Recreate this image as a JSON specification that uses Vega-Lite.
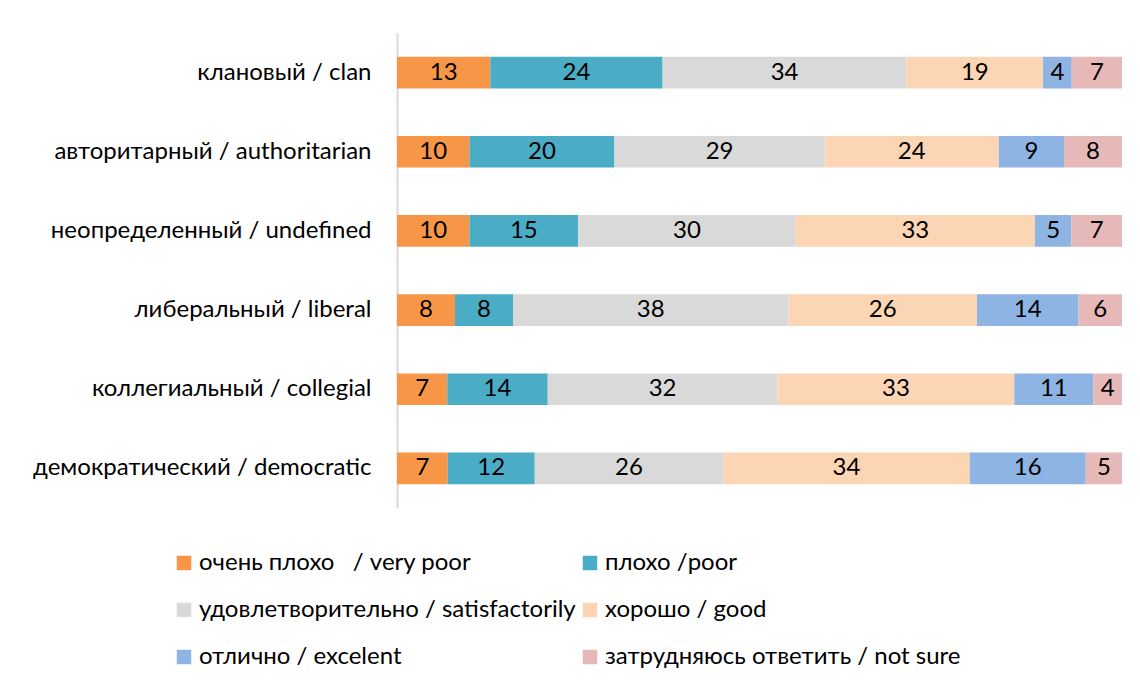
{
  "$schema": "https://vega.github.io/schema/vega-lite/v6.json",
  "autosize": {"type": "none"},
  "padding": {"left": 397, "top": 33, "right": 18, "bottom": 175},
  "width": 725,
  "height": 475,
  "background": "white",
  "config": {"view": {"stroke": null}, "font": "Lato"},
  "data": {"values": [
    {"style": "клановый / clan", "cat": "очень плохо\u00a0\u00a0 / very poor", "k": 1, "v": 13},
    {"style": "клановый / clan", "cat": "плохо /poor", "k": 2, "v": 24},
    {"style": "клановый / clan", "cat": "удовлетворительно / satisfactorily", "k": 3, "v": 34},
    {"style": "клановый / clan", "cat": "хорошо / good", "k": 4, "v": 19},
    {"style": "клановый / clan", "cat": "отлично / excelent", "k": 5, "v": 4},
    {"style": "клановый / clan", "cat": "затрудняюсь ответить / not sure", "k": 6, "v": 7},
    {"style": "авторитарный / authoritarian", "cat": "очень плохо\u00a0\u00a0 / very poor", "k": 1, "v": 10},
    {"style": "авторитарный / authoritarian", "cat": "плохо /poor", "k": 2, "v": 20},
    {"style": "авторитарный / authoritarian", "cat": "удовлетворительно / satisfactorily", "k": 3, "v": 29},
    {"style": "авторитарный / authoritarian", "cat": "хорошо / good", "k": 4, "v": 24},
    {"style": "авторитарный / authoritarian", "cat": "отлично / excelent", "k": 5, "v": 9},
    {"style": "авторитарный / authoritarian", "cat": "затрудняюсь ответить / not sure", "k": 6, "v": 8},
    {"style": "неопределенный / undefined", "cat": "очень плохо\u00a0\u00a0 / very poor", "k": 1, "v": 10},
    {"style": "неопределенный / undefined", "cat": "плохо /poor", "k": 2, "v": 15},
    {"style": "неопределенный / undefined", "cat": "удовлетворительно / satisfactorily", "k": 3, "v": 30},
    {"style": "неопределенный / undefined", "cat": "хорошо / good", "k": 4, "v": 33},
    {"style": "неопределенный / undefined", "cat": "отлично / excelent", "k": 5, "v": 5},
    {"style": "неопределенный / undefined", "cat": "затрудняюсь ответить / not sure", "k": 6, "v": 7},
    {"style": "либеральный / liberal", "cat": "очень плохо\u00a0\u00a0 / very poor", "k": 1, "v": 8},
    {"style": "либеральный / liberal", "cat": "плохо /poor", "k": 2, "v": 8},
    {"style": "либеральный / liberal", "cat": "удовлетворительно / satisfactorily", "k": 3, "v": 38},
    {"style": "либеральный / liberal", "cat": "хорошо / good", "k": 4, "v": 26},
    {"style": "либеральный / liberal", "cat": "отлично / excelent", "k": 5, "v": 14},
    {"style": "либеральный / liberal", "cat": "затрудняюсь ответить / not sure", "k": 6, "v": 6},
    {"style": "коллегиальный / collegial", "cat": "очень плохо\u00a0\u00a0 / very poor", "k": 1, "v": 7},
    {"style": "коллегиальный / collegial", "cat": "плохо /poor", "k": 2, "v": 14},
    {"style": "коллегиальный / collegial", "cat": "удовлетворительно / satisfactorily", "k": 3, "v": 32},
    {"style": "коллегиальный / collegial", "cat": "хорошо / good", "k": 4, "v": 33},
    {"style": "коллегиальный / collegial", "cat": "отлично / excelent", "k": 5, "v": 11},
    {"style": "коллегиальный / collegial", "cat": "затрудняюсь ответить / not sure", "k": 6, "v": 4},
    {"style": "демократический / democratic", "cat": "очень плохо\u00a0\u00a0 / very poor", "k": 1, "v": 7},
    {"style": "демократический / democratic", "cat": "плохо /poor", "k": 2, "v": 12},
    {"style": "демократический / democratic", "cat": "удовлетворительно / satisfactorily", "k": 3, "v": 26},
    {"style": "демократический / democratic", "cat": "хорошо / good", "k": 4, "v": 34},
    {"style": "демократический / democratic", "cat": "отлично / excelent", "k": 5, "v": 16},
    {"style": "демократический / democratic", "cat": "затрудняюсь ответить / not sure", "k": 6, "v": 5}
  ]},
  "encoding": {
    "y": {
      "field": "style", "type": "nominal", "title": null,
      "sort": ["клановый / clan", "авторитарный / authoritarian", "неопределенный / undefined", "либеральный / liberal", "коллегиальный / collegial", "демократический / democratic"],
      "scale": {"paddingInner": 0.6, "paddingOuter": 0.3},
      "axis": {"domainColor": "#D9D9D9", "domainWidth": 2, "ticks": false, "labelFontSize": 24, "labelColor": "#000000", "labelPadding": 26, "labelLimit": 400, "labelFont": "Lato"}
    },
    "order": {"field": "k", "type": "quantitative"}
  },
  "layer": [
    {
      "mark": {"type": "bar"},
      "encoding": {
        "x": {"field": "v", "type": "quantitative", "stack": "normalize", "axis": null},
        "color": {
          "field": "cat", "type": "nominal",
          "sort": ["очень плохо\u00a0\u00a0 / very poor", "плохо /poor", "удовлетворительно / satisfactorily", "хорошо / good", "отлично / excelent", "затрудняюсь ответить / not sure"],
          "scale": {
            "domain": ["очень плохо\u00a0\u00a0 / very poor", "плохо /poor", "удовлетворительно / satisfactorily", "хорошо / good", "отлично / excelent", "затрудняюсь ответить / not sure"],
            "range": ["#F79646", "#4BACC6", "#D9D9D9", "#FCD5B5", "#8EB4E3", "#E6B9B8"]
          },
          "legend": {
            "title": null, "orient": "none", "legendX": -225, "legendY": 518,
            "direction": "horizontal", "columns": 2, "columnPadding": 2, "rowPadding": 23,
            "symbolType": "square", "symbolSize": 210, "symbolStrokeWidth": 0, "symbolOffset": 0,
            "labelFontSize": 24, "labelColor": "#000000", "labelFont": "Lato", "labelOffset": 3, "labelLimit": 500, "padding": 0
          }
        }
      }
    },
    {
      "mark": {"type": "text", "fontSize": 24, "color": "#000000", "font": "Lato", "baseline": "middle", "align": "center"},
      "encoding": {
        "x": {"field": "v", "type": "quantitative", "stack": "normalize", "bandPosition": 0.5},
        "detail": {"field": "cat", "type": "nominal"},
        "text": {"field": "v", "type": "quantitative"}
      }
    }
  ]
}
